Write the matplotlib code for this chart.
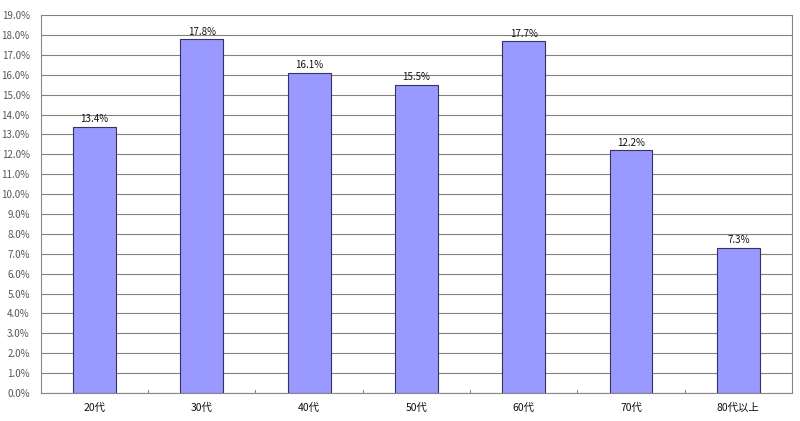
import matplotlib
matplotlib.use('Agg')
import matplotlib.pyplot as plt
import numpy as np
from matplotlib.ticker import FuncFormatter, MultipleLocator

plt.rcParams['font.family'] = ['Noto Sans CJK JP', 'DejaVu Sans']

categories = ['20代', '30代', '40代', '50代', '60代', '70代', '80代以上']
values = [13.4, 17.8, 16.1, 15.5, 17.7, 12.2, 7.3]

fig = plt.figure(figsize=(8, 4.21), dpi=100)
ax = fig.add_axes([0.051, 0.0665, 0.939, 0.8975])

x = np.arange(len(categories))
ax.bar(x, values, width=0.4, color='#9999FF', edgecolor='#333366', linewidth=0.8, zorder=3)

# value labels above each bar
for xi, v in zip(x, values):
    ax.text(xi, v + 0.12, '%.1f%%' % v, ha='center', va='bottom', fontsize=7, color='#111111')

ax.set_xlim(-0.5, len(categories) - 0.5)
ax.set_ylim(0, 19)
ax.yaxis.set_major_locator(MultipleLocator(1))
ax.yaxis.set_major_formatter(FuncFormatter(lambda v, p: '%.1f%%' % v))
ax.grid(axis='y', color='#808080', linewidth=0.8, zorder=0)

ax.set_xticks(x)
ax.set_xticklabels(categories)
ax.tick_params(axis='x', length=0, pad=7, labelsize=7.5, labelcolor='#111111')
ax.tick_params(axis='y', length=0, pad=8, labelsize=7, labelcolor='#555555')

# small ticks at category boundaries
for b in np.arange(0.5, len(categories) - 0.5, 1):
    ax.plot([b, b], [0, 0.15], color='#888888', linewidth=0.8, zorder=2)

for s in ['left', 'bottom', 'right']:
    ax.spines[s].set_color('#888888')
    ax.spines[s].set_linewidth(0.8)
ax.spines['top'].set_visible(False)

plt.savefig('out.png', dpi=100)
